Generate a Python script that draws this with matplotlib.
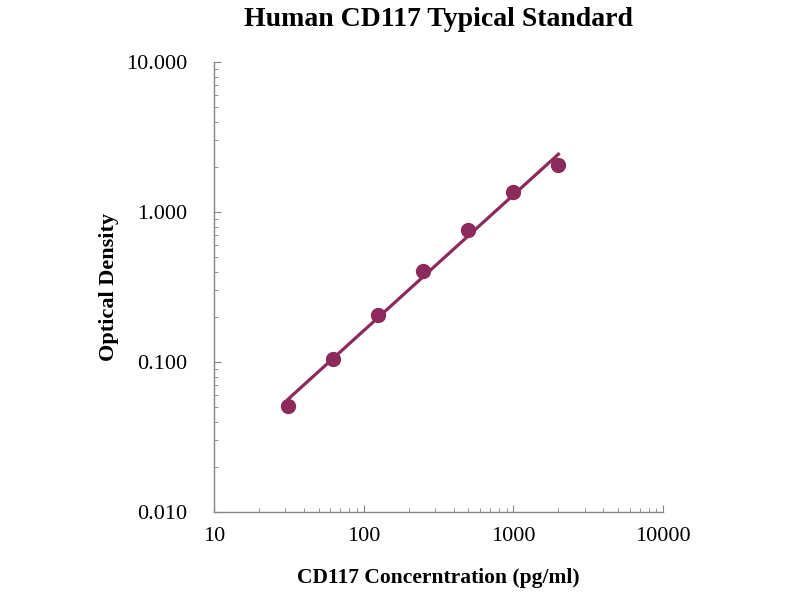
import numpy as np
import matplotlib.pyplot as plt
from matplotlib.ticker import FixedLocator, FixedFormatter, LogLocator, NullFormatter

conc = [31.25, 62.5, 125, 250, 500, 1000, 2000]
od = [0.051, 0.104, 0.207, 0.407, 0.76, 1.36, 2.07]
xticks = [10, 100, 1000, 10000]
yticks = [0.01, 0.1, 1, 10]
ytick_labels = ['0.010', '0.100', '1.000', '10.000']

color = '#8C2A5C'
plt.rcParams['font.family'] = ['Liberation Serif', 'DejaVu Serif']

fig = plt.figure(figsize=(8, 6), dpi=100)
ax = fig.add_axes([0.2675, 0.1467, 0.5613, 0.75])

# power trendline fitted in log space
k, b = np.polyfit(np.log10(conc), np.log10(od), 1)
xs = np.array([conc[0], conc[-1]])
ax.plot(xs, 10 ** (k * np.log10(xs) + b), color=color, lw=2.3, zorder=2)
ax.plot(conc, od, 'o', color=color, ms=10, zorder=3)

ax.set_xscale('log')
ax.set_yscale('log')
ax.set_xlim(10, 10000)
ax.set_ylim(0.01, 10)

ax.xaxis.set_major_locator(FixedLocator(xticks))
ax.xaxis.set_major_formatter(FixedFormatter([str(v) for v in xticks]))
ax.yaxis.set_major_locator(FixedLocator(yticks))
ax.yaxis.set_major_formatter(FixedFormatter(ytick_labels))
ax.xaxis.set_minor_locator(LogLocator(base=10, subs=np.arange(2, 10)))
ax.yaxis.set_minor_locator(LogLocator(base=10, subs=np.arange(2, 10)))
ax.xaxis.set_minor_formatter(NullFormatter())
ax.yaxis.set_minor_formatter(NullFormatter())

for s in ['top', 'right']:
    ax.spines[s].set_visible(False)
for s in ['left', 'bottom']:
    ax.spines[s].set_color('#858585')
    ax.spines[s].set_linewidth(1.0)

ax.tick_params(which='major', direction='in', length=5, color='#858585', labelsize=16)
ax.tick_params(which='minor', direction='in', length=3, color='#858585')
ax.tick_params(axis='x', pad=11)
ax.tick_params(axis='y', pad=19)

ax.set_title('Human CD117 Typical Standard', fontsize=20, fontweight='bold', pad=26)
ax.set_xlabel('CD117 Concerntration (pg/ml)', fontsize=15.5, fontweight='bold', labelpad=16)
ax.set_ylabel('Optical Density', fontsize=16, fontweight='bold', labelpad=5)

fig.savefig('out.png', dpi=100)
